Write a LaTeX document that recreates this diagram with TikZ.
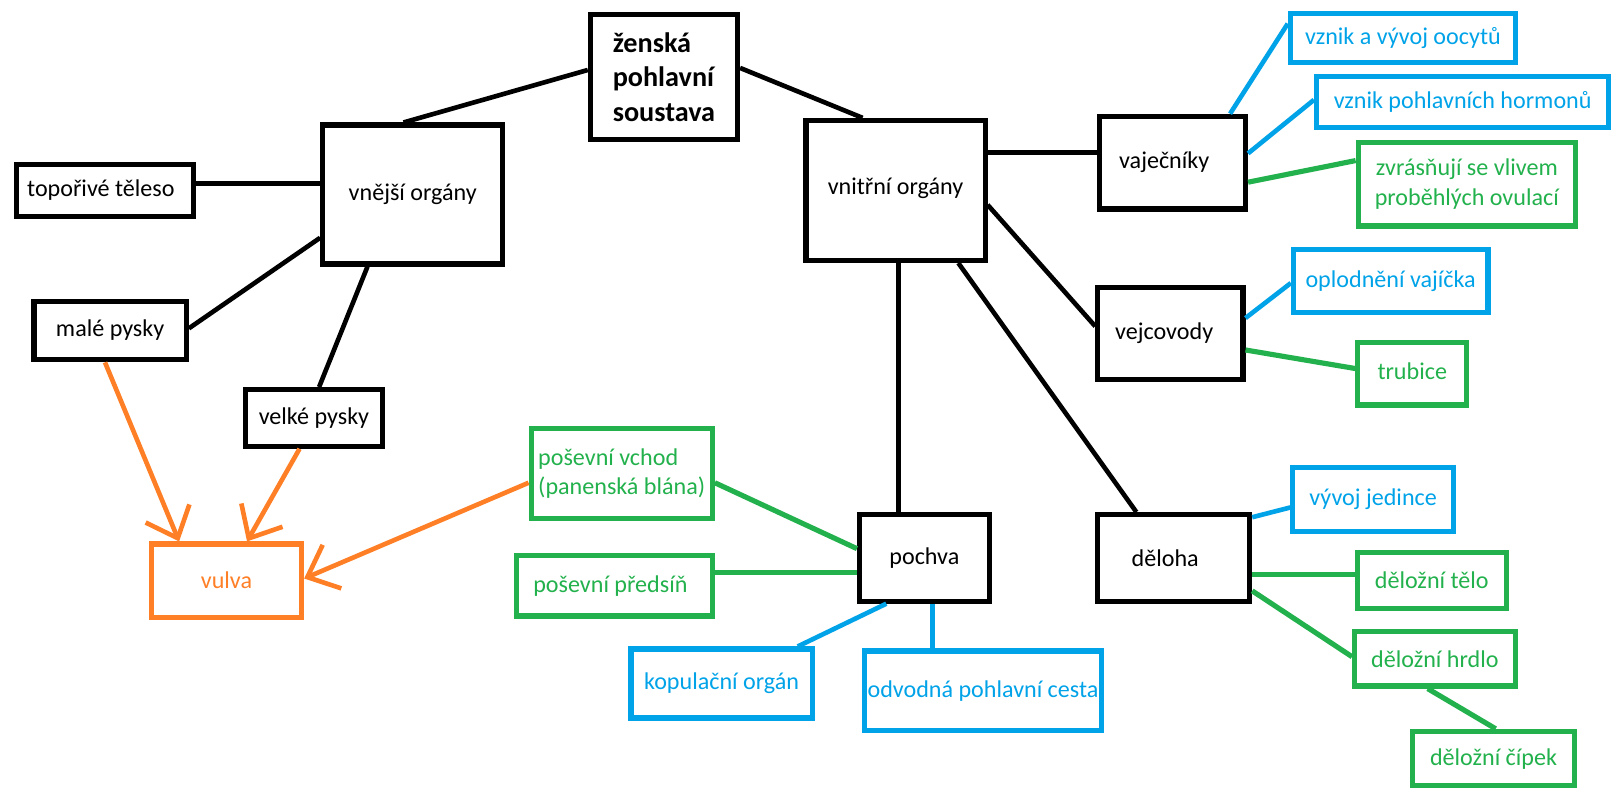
\documentclass[tikz,border=0pt]{standalone}
\usepackage{fontspec}
\setmainfont{Carlito}
\usetikzlibrary{arrows.meta,calc}
\definecolor{pblue}{RGB}{0,162,232}
\definecolor{pgreen}{RGB}{34,177,76}
\definecolor{porange}{RGB}{255,127,39}
\begin{document}
\begin{tikzpicture}[x=1bp,y=-1bp,
 box/.style={draw=black,line width=5bp,inner sep=0pt,align=center,font=\fontsize{23.5}{29}\selectfont,text=black},
 bbox/.style={box,draw=pblue,text=pblue},
 gbox/.style={box,draw=pgreen,text=pgreen},
 obox/.style={box,draw=porange,text=porange},
 sz/.style 2 args={minimum width=#1bp,minimum height=#2bp},
 bl/.style={line width=4.5bp,black},
 blu/.style={line width=4.5bp,pblue},
 gr/.style={line width=5bp,pgreen},
 ar/.style={line width=4.5bp,porange,-{Straight Barb[length=26bp,width=46bp]}}]
\useasboundingbox (0,0) rectangle (1568,768);
% black nodes
\node[box,sz={143}{121},align=left,font=\bfseries\fontsize{27.5}{34}\selectfont] (zen) at (645,75) {ženská\\pohlavní\\soustava};
\node[box,sz={175}{135}] (vnej) at (401,189) {vnější orgány};
\node[box,sz={172}{50}] (topor) at (102,185) {\hspace*{-8bp}topořivé těleso};
\node[box,sz={148}{57}] (male) at (107,321) {malé pysky};
\node[box,sz={133}{55}] (velke) at (305,406) {velké pysky};
\node[obox,sz={146}{71}] (vulva) at (220,564) {vulva};
\node[box,sz={174}{136}] (vnitr) at (870,185) {\raisebox{8bp}{vnitřní orgány}};
\node[box,sz={142}{90}] (vajec) at (1139,158) {\raisebox{3bp}{vaječníky}\hspace*{16bp}};
\node[box,sz={141}{89}] (vejco) at (1137,324) {\raisebox{5bp}{vejcovody}\hspace*{12bp}};
\node[box,sz={126}{84}] (pochva) at (898,542) {pochva};
\node[box,sz={148}{84}] (deloha) at (1140,542) {děloha\hspace*{16bp}};
% blue nodes
\node[bbox,sz={219}{48}] (oocytu) at (1363,37) {\raisebox{4bp}{vznik a vývoj oocytů}};
\node[bbox,sz={284}{49}] (hormon) at (1421,99) {\raisebox{3bp}{vznik pohlavních hormonů}};
\node[bbox,sz={189}{61}] (oplod) at (1351,273) {oplodnění vajíčka};
\node[bbox,sz={176}{67}] (kopul) at (701,664) {kopulační orgán};
\node[bbox,sz={231}{77}] (odvod) at (955,671) {odvodná pohlavní cesta};
\node[bbox,sz={156}{62}] (vyvoj) at (1334,485) {\raisebox{3bp}{vývoj jedince}};
% green nodes
\node[gbox,sz={211}{81}] (zvras) at (1425,179) {zvrásňují se vlivem\\proběhlých ovulací};
\node[gbox,sz={106}{61}] (trubice) at (1372,363) {\raisebox{5bp}{trubice}};
\node[gbox,sz={176}{87},align=left] (vchod) at (604,460) {poševní vchod\\(panenská blána)};
\node[gbox,sz={190}{59}] (predsin) at (597,569) {poševní předsíň\hspace*{8bp}};
\node[gbox,sz={145}{55}] (telo) at (1391,564) {děložní tělo};
\node[gbox,sz={156}{53}] (hrdlo) at (1394,640) {děložní hrdlo};
\node[gbox,sz={157}{53}] (cipek) at (1451,737) {děložní čípek};
% black connectors
\draw[bl] ($(zen.west)+(0,-7)$) -- ($(vnej.north)+(-9,0)$);
\draw[bl] ($(zen.east)+(0,-9)$) -- ($(vnitr.north)+(-32,0)$);
\draw[bl] ($(vnej.west)+(0,-11)$) -- ($(topor.east)+(0,-7)$);
\draw[bl] ($(vnej.west)+(0,42)$) -- ($(male.east)+(0,-2)$);
\draw[bl] ($(vnej.south)+(-44,0)$) -- ($(velke.north)+(5,0)$);
\draw[bl] ($(vnitr.east)+(0,-37)$) -- ($(vajec.west)+(0,-10)$);
\draw[bl] ($(vnitr.east)+(0,14)$) -- ($(vejco.west)+(0,-7)$);
\draw[bl] ($(vnitr.south)+(3,0)$) -- ($(pochva.north)+(-25,0)$);
\draw[bl] ($(vnitr.south)+(61,0)$) -- ($(deloha.north)+(-36,0)$);
% blue connectors
\draw[blu] ($(vajec.north)+(56,0)$) -- ($(oocytu.west)+(0,-14)$);
\draw[blu] ($(vajec.east)+(0,-9)$) -- ($(hormon.west)+(0,-2)$);
\draw[blu] ($(vejco.east)+(0,-15)$) -- ($(oplod.west)+(0,2)$);
\draw[blu] ($(deloha.north east)+(0,5)$) -- ($(vyvoj.west)+(0,8)$);
\draw[blu] ($(pochva.south)+(-37,0)$) -- ($(kopul.north)+(74,0)$);
\draw[blu] ($(pochva.south)+(8,0)$) -- ($(odvod.north)+(-49,0)$);
% green connectors
\draw[gr] ($(vajec.east)+(0,19)$) -- ($(zvras.west)+(0,-23)$);
\draw[gr] ($(vejco.east)+(0,16)$) -- ($(trubice.west)+(0,-5)$);
\draw[gr] ($(vchod.east)+(0,9)$) -- ($(pochva.west)+(0,-9)$);
\draw[gr] ($(predsin.east)+(0,-13)$) -- ($(pochva.west)+(0,14)$);
\draw[gr] ($(deloha.east)+(0,16)$) -- ($(telo.west)+(0,-6)$);
\draw[gr] ($(deloha.east)+(0,32)$) -- ($(hrdlo.west)+(0,-2)$);
\draw[gr] ($(hrdlo.south)+(-7,0)$) -- ($(cipek.north)+(2,0)$);
% orange arrows
\draw[ar] ($(male.south)+(-5,0)$) -- ($(vulva.north)+(-46,0)$);
\draw[ar] ($(velke.south)+(-14,0)$) -- ($(vulva.north)+(20,0)$);
\draw[ar] ($(vchod.west)+(0,9)$) -- ($(vulva.east)+(0,-2)$);
\end{tikzpicture}
\end{document}
